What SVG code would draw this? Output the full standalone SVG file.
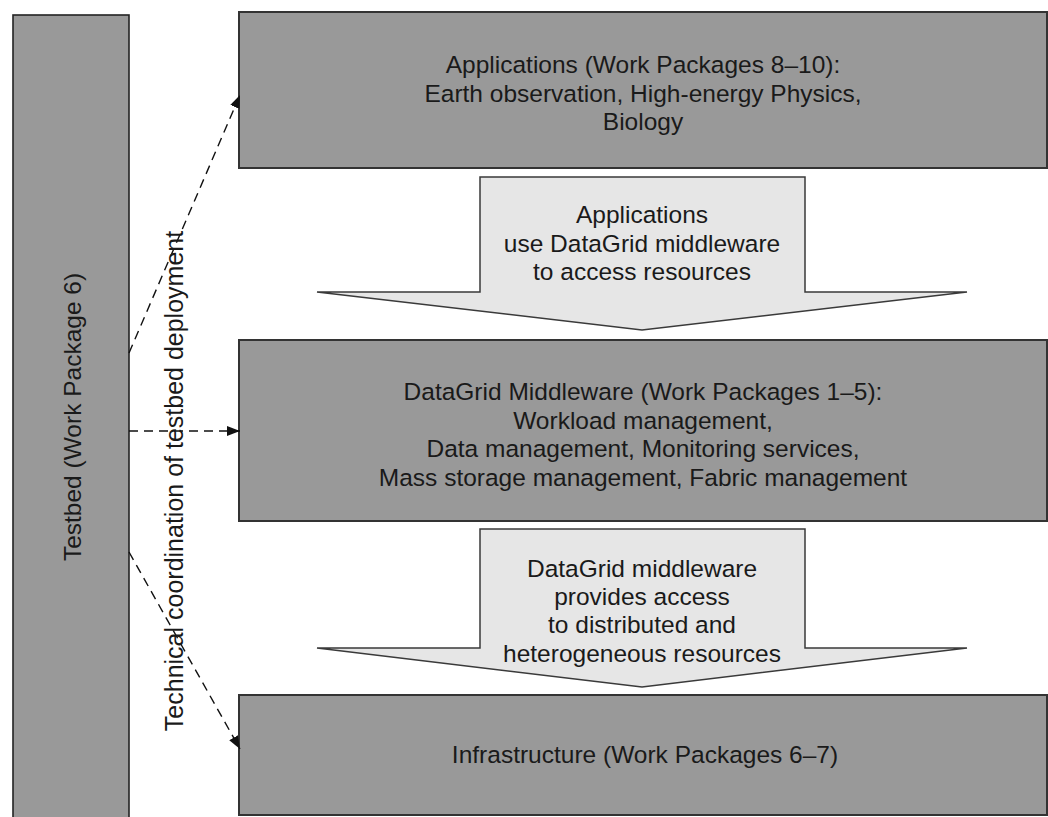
<svg xmlns="http://www.w3.org/2000/svg" width="1048" height="817" viewBox="0 0 1048 817">
<style>
.box{fill:#999999;stroke:#333333;stroke-width:2}
.flow{fill:#e6e6e6;stroke:#3a3a3a;stroke-width:1.5;stroke-linejoin:miter}
.t{font-family:"Liberation Sans",Arial,sans-serif;font-size:24.5px;fill:#1a1a1a;text-anchor:middle}
.dash{fill:none;stroke:#111111;stroke-width:1.4;stroke-dasharray:9 6}
</style>
<defs>
<marker id="ah" viewBox="0 0 13 10" refX="13" refY="5" markerWidth="13" markerHeight="10" markerUnits="userSpaceOnUse" orient="auto">
<path d="M0,0 L13,5 L0,10 Z" fill="#111111"/>
</marker>
</defs>
<rect width="1048" height="817" fill="#ffffff"/>
<g id="testbed">
<rect class="box" x="13" y="15" width="116" height="820" style="stroke:#222222;stroke-width:1.6"/>
<text class="t" transform="translate(80.5,417) rotate(-90)">Testbed (Work Package 6)</text>
</g>
<g id="applications">
<rect class="box" x="239" y="12" width="808" height="156"/>
<text class="t" x="643" y="73">Applications (Work Packages 8–10):</text>
<text class="t" x="643" y="102">Earth observation, High-energy Physics,</text>
<text class="t" x="643" y="130">Biology</text>
</g>
<g id="middleware">
<rect class="box" x="239" y="340" width="808" height="181"/>
<text class="t" x="643" y="400">DataGrid Middleware (Work Packages 1–5):</text>
<text class="t" x="643" y="428.5">Workload management,</text>
<text class="t" x="643" y="457">Data management, Monitoring services,</text>
<text class="t" x="643" y="485.5">Mass storage management, Fabric management</text>
</g>
<g id="infrastructure">
<rect class="box" x="239" y="695" width="808" height="120"/>
<text class="t" x="645" y="763">Infrastructure (Work Packages 6–7)</text>
</g>
<g id="connectors">
<g id="flow-apps-middleware">
<polygon class="flow" points="480,177 805,177 805,292 967,292 642,330 317,292 480,292"/>
<text class="t" x="642" y="223">Applications</text>
<text class="t" x="642" y="251.5">use DataGrid middleware</text>
<text class="t" x="642" y="280">to access resources</text>
</g>
<g id="flow-middleware-infra">
<polygon class="flow" points="480,529 805,529 805,648 967,648 642,687 317,648 480,648"/>
<text class="t" x="642" y="577">DataGrid middleware</text>
<text class="t" x="642" y="605">provides access</text>
<text class="t" x="642" y="633">to distributed and</text>
<text class="t" x="642" y="662">heterogeneous resources</text>
</g>
<g id="coordination">
<line class="dash" x1="129" y1="353" x2="240" y2="95" marker-end="url(#ah)"/>
<line class="dash" x1="129" y1="431" x2="240" y2="431" marker-end="url(#ah)"/>
<line class="dash" x1="129" y1="552" x2="240" y2="749" marker-end="url(#ah)"/>
<text class="t" style="font-size:25px" transform="translate(183,481) rotate(-90)">Technical coordination of testbed deployment</text>
</g>
</g>
</svg>
